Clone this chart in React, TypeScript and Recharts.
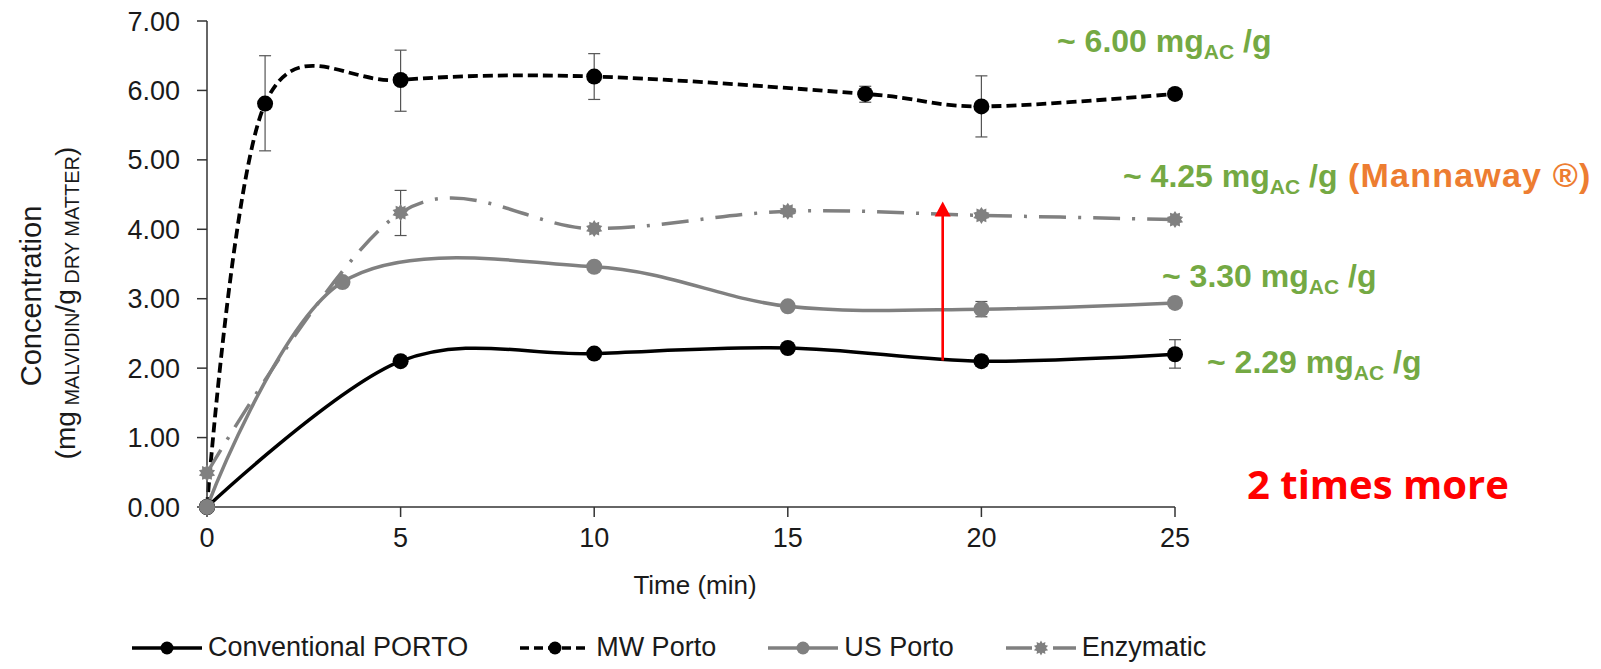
// @ts-nocheck
import React from "react";
import { LineChart, Line, XAxis, YAxis, ErrorBar, ReferenceLine } from "recharts";

// time (min) and concentration values per series
const CONV_T = [0, 5, 10, 15, 20, 25];
const CONV_Y = [0, 2.1, 2.21, 2.29, 2.1, 2.2];
const CONV_ERR = [[0, 0], [0.03, 0.03], [0.03, 0.03], [0.06, 0.06], [0.07, 0.07], [0.2, 0.21]];

const MW_T = [0, 1.5, 5, 10, 17, 20, 25];
const MW_Y = [0, 5.81, 6.15, 6.2, 5.95, 5.77, 5.95];
const MW_ERR = [[0, 0], [0.68, 0.69], [0.45, 0.43], [0.33, 0.33], [0.12, 0.11], [0.44, 0.44], [0.03, 0.03]];

const US_T = [0, 3.5, 10, 15, 20, 25];
const US_Y = [0, 3.24, 3.46, 2.89, 2.85, 2.94];
const US_ERR = [[0, 0], [0, 0], [0, 0], [0, 0], [0.11, 0.11], [0, 0]];

const ENZ_T = [0, 5, 10, 15, 20, 25];
const ENZ_Y = [0.49, 4.24, 4.01, 4.26, 4.2, 4.14];
const ENZ_ERR = [[0, 0], [0.33, 0.32], [0, 0], [0, 0], [0, 0], [0, 0]];

const X_TICKS = [0, 5, 10, 15, 20, 25];
const Y_TICKS = [0, 1, 2, 3, 4, 5, 6, 7];

const ARROW = [
  { x: 19, y: 2.11 },
  { x: 19, y: 4.4 },
];

const NOTES = [
  { value: "~ 6.00 mg", x: 1057, y: 52, extra: null },
  { value: "~ 4.25 mg", x: 1123, y: 187, extra: "(Mannaway ®)" },
  { value: "~ 3.30 mg", x: 1162, y: 287, extra: null },
  { value: "~ 2.29 mg", x: 1207, y: 373, extra: null },
];

const GREEN = "#74A943";
const ORANGE = "#ED7D31";
const GRAY = "#808080";
const FONT = "'Liberation Sans', Arial, sans-serif";

const toRows = (t, y, e) => t.map((x, i) => ({ x, y: y[i], err: e[i] }));

const SERIES = [
  { name: "Conventional PORTO", rows: toRows(CONV_T, CONV_Y, CONV_ERR), color: "#000", dash: undefined, width: 3.5, marker: "circle" },
  { name: "MW Porto", rows: toRows(MW_T, MW_Y, MW_ERR), color: "#000", dash: "10 5", width: 3.8, marker: "circle" },
  { name: "US Porto", rows: toRows(US_T, US_Y, US_ERR), color: GRAY, dash: undefined, width: 3.5, marker: "circle" },
  { name: "Enzymatic", rows: toRows(ENZ_T, ENZ_Y, ENZ_ERR), color: GRAY, dash: "27 12 3 12", width: 3.5, marker: "star" },
];

// excel-like smoothed line (catmull-rom / cardinal with tension 0)
function smoothCurve(context) {
  let x0, y0, x1, y1, x2, y2, n, line;
  const k = 1 / 6;
  const seg = (x, y) =>
    context.bezierCurveTo(
      x1 + k * (x2 - x0),
      y1 + k * (y2 - y0),
      x2 + k * (x1 - x),
      y2 + k * (y1 - y),
      x2,
      y2,
    );
  return {
    areaStart() {
      line = 0;
    },
    areaEnd() {
      line = NaN;
    },
    lineStart() {
      x0 = x1 = x2 = y0 = y1 = y2 = NaN;
      n = 0;
    },
    lineEnd() {
      if (n === 2) context.lineTo(x2, y2);
      else if (n === 3) seg(x1, y1);
      if (line || (line !== 0 && n === 1)) context.closePath();
      line = 1 - line;
    },
    point(x, y) {
      x = +x;
      y = +y;
      if (n === 0) {
        n = 1;
        line ? context.lineTo(x, y) : context.moveTo(x, y);
      } else if (n === 1) {
        n = 2;
        x1 = x;
        y1 = y;
      } else {
        if (n === 2) n = 3;
        seg(x, y);
      }
      x0 = x1;
      x1 = x2;
      x2 = x;
      y0 = y1;
      y1 = y2;
      y2 = y;
    },
  };
}

function starPoints(cx, cy, ro, ri, count) {
  const pts = [];
  for (let i = 0; i < count * 2; i++) {
    const r = i % 2 === 0 ? ro : ri;
    const a = (Math.PI * i) / count - Math.PI / 2;
    pts.push(`${cx + r * Math.cos(a)},${cy + r * Math.sin(a)}`);
  }
  return pts.join(" ");
}

function StarDot({ cx, cy }) {
  if (cx == null || cy == null) return null;
  return <polygon points={starPoints(cx, cy, 8.5, 6, 10)} fill={GRAY} />;
}

function Arrow({ x1, y1, x2, y2 }) {
  const top = Math.min(y1, y2);
  const bottom = Math.max(y1, y2);
  return (
    <g>
      <line x1={x1} y1={bottom} x2={x1} y2={top + 12} stroke="#FF0000" strokeWidth={2.6} />
      <polygon points={`${x1},${top} ${x1 - 8},${top + 15} ${x1 + 8},${top + 15}`} fill="#FF0000" />
    </g>
  );
}

function LegendIcon({ s }) {
  return (
    <svg width={70} height={20} style={{ display: "block" }}>
      <line x1={0} y1={10} x2={70} y2={10} stroke={s.color} strokeWidth={3.5} strokeDasharray={s.dash ? (s.marker === "star" ? "26 9 3 9" : "9 5") : undefined} />
      {s.marker === "star" ? (
        <polygon points={starPoints(35, 10, 7.5, 5, 10)} fill={s.color} />
      ) : (
        <circle cx={35} cy={10} r={6.5} fill={s.color} />
      )}
    </svg>
  );
}

export default function App() {
  const axisStroke = "#333";
  const tickStyle = { fontFamily: FONT, fontSize: 27, fill: "#1a1a1a" };

  return (
    <div style={{ position: "absolute", left: 0, top: 0, width: 1601, height: 669, background: "#fff" }}>
      <LineChart width={1601} height={669} margin={{ top: 21, right: 426, bottom: 102, left: 0 }}>
        <XAxis
          type="number"
          dataKey="x"
          domain={[0, 25]}
          ticks={X_TICKS}
          height={60}
          tick={tickStyle}
          tickSize={10}
          tickMargin={11}
          stroke={axisStroke}
          strokeWidth={1.5}
          allowDuplicatedCategory={false}
        />
        <YAxis
          type="number"
          domain={[0, 7]}
          ticks={Y_TICKS}
          width={207}
          tick={tickStyle}
          tickSize={10}
          tickMargin={17}
          tickFormatter={(v) => v.toFixed(2)}
          stroke={axisStroke}
          strokeWidth={1.5}
        />
        {SERIES.map((s) => (
          <Line
            key={s.name}
            data={s.rows}
            dataKey="y"
            name={s.name}
            type={smoothCurve}
            stroke={s.color}
            strokeWidth={s.width}
            strokeDasharray={s.dash}
            dot={s.marker === "star" ? <StarDot /> : { r: 8, fill: s.color, stroke: s.color, strokeWidth: 0 }}
            activeDot={false}
            isAnimationActive={false}
          >
            <ErrorBar dataKey="err" direction="y" width={6} stroke="#555" strokeWidth={1.2} />
          </Line>
        ))}
        <ReferenceLine segment={ARROW} shape={(p) => <Arrow {...p} />} ifOverflow="visible" />
      </LineChart>

      <svg width={1601} height={669} style={{ position: "absolute", left: 0, top: 0, pointerEvents: "none" }}>
        <text transform="translate(41,296) rotate(-90)" textAnchor="middle" fontFamily={FONT} fontSize={29} fill="#1a1a1a">
          Concentration
        </text>
        <text transform="translate(75,303) rotate(-90)" textAnchor="middle" fontFamily={FONT} fontSize={28} fill="#1a1a1a">
          (mg
          <tspan fontSize={20} dy={4}> MALVIDIN</tspan>
          <tspan dy={-4}>/g</tspan>
          <tspan fontSize={20} dy={4}> DRY MATTER</tspan>
          <tspan dy={-4}>)</tspan>
        </text>
        <text x={695} y={594} textAnchor="middle" fontFamily={FONT} fontSize={26} fill="#1a1a1a">
          Time (min)
        </text>

        {NOTES.map((n) => (
          <text key={n.value} x={n.x} y={n.y} fontFamily={FONT} fontWeight="bold" fontSize={32} fill={GREEN}>
            {n.value}
            <tspan fontSize={21} dy={7}>AC</tspan>
            <tspan dy={-7}> /g</tspan>
            {n.extra ? (
              <tspan fill={ORANGE} fontSize={34} letterSpacing={1.2}>
                {" "}
                {n.extra}
              </tspan>
            ) : null}
          </text>
        ))}
        <text x={1247} y={499} fontFamily="'Open Sans', sans-serif" fontWeight="bold" fontSize={40} fill="#FF0000">
          2 times more
        </text>
      </svg>

      <div
        style={{
          position: "absolute",
          left: 132,
          top: 634,
          display: "flex",
          alignItems: "center",
          gap: 52,
          fontFamily: FONT,
          fontSize: 27,
          color: "#1a1a1a",
          whiteSpace: "nowrap",
        }}
      >
        {SERIES.map((s) => (
          <div key={s.name} style={{ display: "flex", alignItems: "center", gap: 6 }}>
            <LegendIcon s={s} />
            <span style={{ lineHeight: "27px" }}>{s.name}</span>
          </div>
        ))}
      </div>
    </div>
  );
}
